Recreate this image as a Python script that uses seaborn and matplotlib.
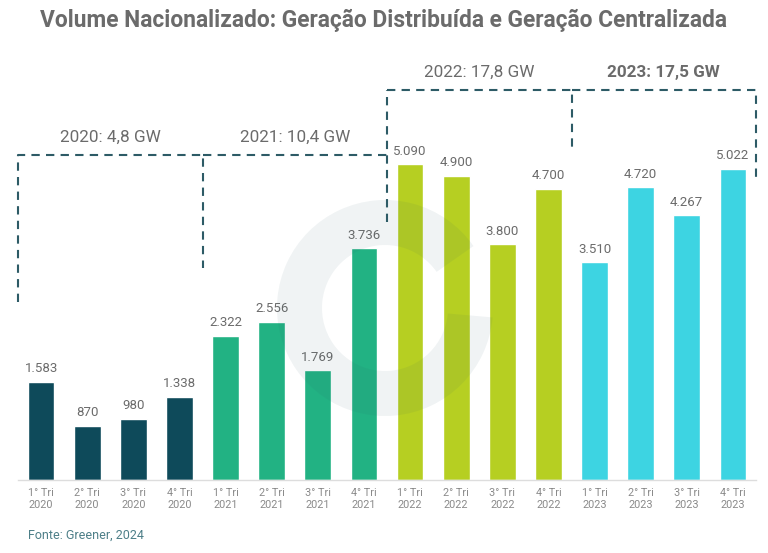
import matplotlib.pyplot as plt
import matplotlib.patches as mpatches
import seaborn as sns
import pandas as pd

# Dados: volume nacionalizado por trimestre (MW)
trimestres = ["1° Tri", "2° Tri", "3° Tri", "4° Tri"]
anos = ["2020", "2021", "2022", "2023"]
valores = [1583, 870, 980, 1338,
           2322, 2556, 1769, 3736,
           5090, 4900, 3800, 4700,
           3510, 4720, 4267, 5022]
totais = ["2020: 4,8 GW", "2021: 10,4 GW", "2022: 17,8 GW", "2023: 17,5 GW"]
cores = ["#0e4a5a", "#22b283", "#b6cf22", "#3dd4e2"]

labels = [f"{t}\n{a}" for a in anos for t in trimestres]
ano_col = [a for a in anos for _ in trimestres]
df = pd.DataFrame({"label": labels, "ano": ano_col, "valor": valores})

sns.set_theme(style="white")
plt.rcParams['font.family'] = ['Roboto', 'DejaVu Sans']

fig = plt.figure(figsize=(7.68, 5.53), dpi=100)
W, H = 768, 553

ax = fig.add_axes([18 / W, 73 / H, (756 - 18) / W, 409.2 / H])
ax.patch.set_alpha(0)

sns.barplot(data=df, x="label", y="valor", hue="ano", palette=cores,
            dodge=False, width=0.58, legend=False, ax=ax, saturation=1)

ax.set_xlim(-0.5, 15.5)
ax.set_ylim(0, 6600)
ax.set_xlabel("")
ax.set_ylabel("")
ax.set_yticks([])
for s in ["top", "left", "right"]:
    ax.spines[s].set_visible(False)
ax.spines["bottom"].set_color("#dddddd")
ax.spines["bottom"].set_linewidth(1)
ax.tick_params(axis="x", length=0, pad=6, labelsize=7.8, labelcolor="#8a8a8a")

# rotulos de valor
for i, v in enumerate(valores):
    txt = f"{v:,}".replace(",", ".")
    ax.text(i, v + 110, txt, ha="center", va="bottom", fontsize=9.5,
            color="#6b6b6b")

# chaves tracejadas por ano
dash = dict(color="#2d5b66", lw=1.5, linestyle=(0, (4, 3)), clip_on=False)
ax.plot([-0.5, -0.5, 3.5, 3.5], [2870, 5240, 5240, 3420], **dash)
ax.plot([3.5, 7.5], [5240, 5240], **dash)
ax.plot([7.5, 7.5], [4160, 6290], **dash)
ax.plot([7.5, 11.5, 11.5], [6290, 6290, 5320], **dash)
ax.plot([11.5, 15.5, 15.5], [6290, 6290, 4810], **dash)

pos_total = [(1.5, 5400), (5.5, 5400), (9.5, 6450), (13.5, 6450)]
for k, (tx, ty) in enumerate(pos_total):
    ax.text(tx, ty, totais[k], ha="center", va="bottom", fontsize=12.3,
            color="#6b6b6b", fontweight="bold" if k == 3 else "normal",
            clip_on=False)

# marca d'agua (anel claro sobreposto)
ring = mpatches.Wedge((3.85, 2.45), 1.08, 35, 355, width=0.45,
                      transform=fig.dpi_scale_trans, facecolor="#2d5b66",
                      alpha=0.07, edgecolor="none", zorder=5)
fig.patches.append(ring)

fig.text(0.5, 1 - 20 / H,
         "Volume Nacionalizado: Geração Distribuída e Geração Centralizada",
         ha="center", va="center", fontsize=16.4, fontweight="bold", color="#6b6b6b")
fig.text(28 / W, 1 - 535 / H, "Fonte: Greener, 2024", ha="left", va="center",
         fontsize=9, color="#4d7f88")

plt.savefig("out.png", dpi=100)
